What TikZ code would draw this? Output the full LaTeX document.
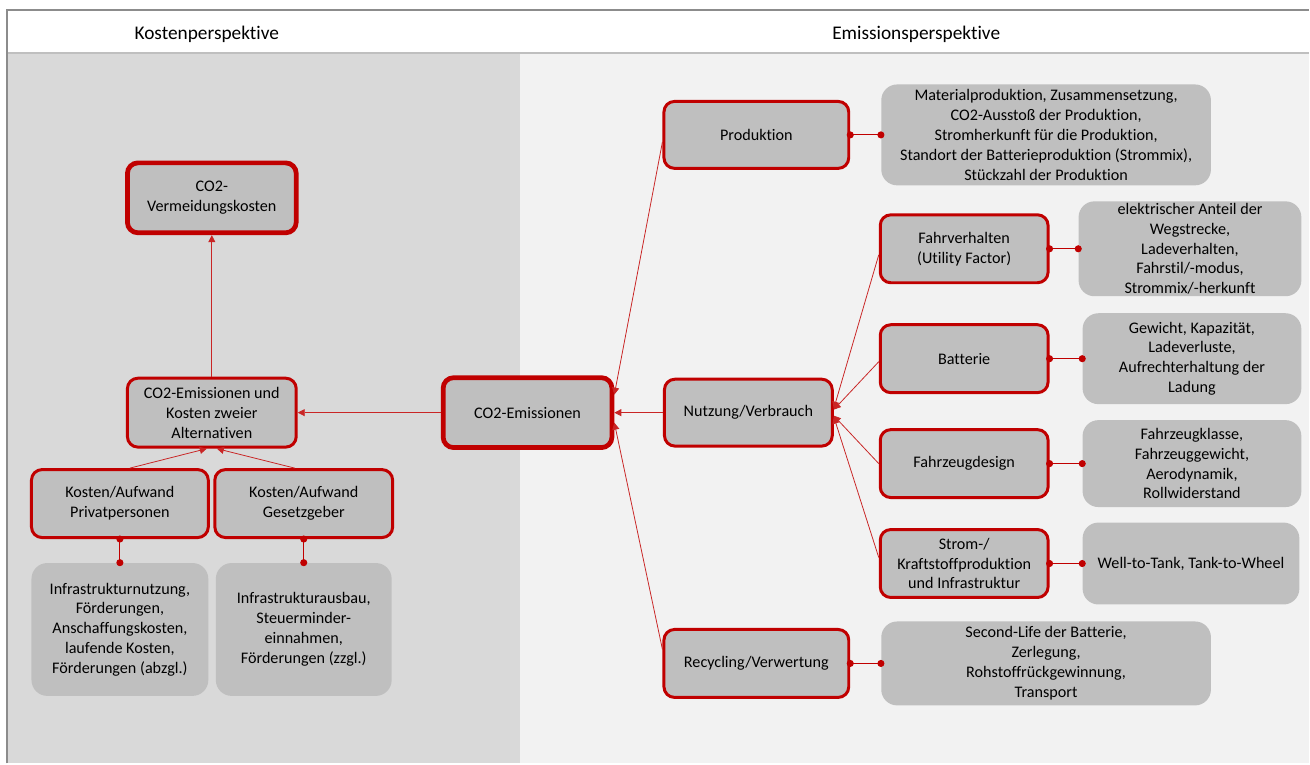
\documentclass[tikz,border=0pt]{standalone}
\usepackage{fontspec}
\setmainfont{Carlito}[Ligatures=NoCommon]
\usetikzlibrary{arrows.meta, positioning}

\definecolor{kred}{HTML}{C00000}
\definecolor{boxgray}{HTML}{BFBFBF}
\definecolor{leftpanel}{HTML}{D9D9D9}
\definecolor{rightpanel}{HTML}{F2F2F2}
\definecolor{framegray}{HTML}{8C8C8C}

\begin{document}
\begin{tikzpicture}[x=0.02cm, y=-0.02cm,
    every node/.style={font=\fontsize{9.2}{11.3}\selectfont, align=center, inner sep=1pt},
    factor/.style={draw=kred, fill=boxgray, line width=1.7pt, rounded corners=6pt,
      minimum width=3.36cm, minimum height=1.36cm},
    keyfactor/.style={factor, line width=2.7pt, minimum width=3.38cm, minimum height=1.4cm},
    info/.style={fill=boxgray, rounded corners=9pt, minimum width=4.4cm},
    arr/.style={draw=kred!85, line width=0.45pt, -{Triangle[length=4pt,width=4pt]}},
    dotline/.style={draw=kred, line width=0.6pt, {Circle[length=4pt]}-{Circle[length=4pt]},
      shorten <=-2pt, shorten >=-2pt}]

    % panels and frame
    \fill[white] (0,0) rectangle (1310,764);
    \fill[leftpanel] (8,53) rectangle (520,764);
    \fill[rightpanel] (520,53) rectangle (1310,764);
    \draw[boxgray, line width=0.8pt] (8,53) -- (1310,53);
    \draw[framegray, line width=1.3pt] (7,764) -- (7,10) -- (1310,10);

    \node[font=\fontsize{11}{13}\selectfont] (kosten) at (207,34) {Kostenperspektive};
    \node[font=\fontsize{11}{13}\selectfont] (emission) at (917,34) {Emissionsperspektive};

    % cost side
    \node[keyfactor] (vk) at (212,198) {CO2-\\Vermeidungskosten};
    \node[factor, minimum width=3.38cm, minimum height=1.38cm] (alt) at (212,413) {CO2-Emissionen und\\Kosten zweier\\Alternativen};
    \node[factor, minimum width=3.54cm] (priv) at (120,504) {Kosten/Aufwand\\Privatpersonen};
    \node[factor, minimum width=3.56cm] (gesetz) at (304,504) {Kosten/Aufwand\\Gesetzgeber};
    \node[info, minimum width=3.54cm, minimum height=2.66cm] (privinfo) at (120,630)
      {Infrastrukturnutzung,\\Förderungen,\\Anschaffungskosten,\\laufende Kosten,\\Förderungen (abzgl.)};
    \node[info, minimum width=3.52cm, minimum height=2.66cm] (gesetzinfo) at (304,630)
      {Infrastrukturausbau,\\Steuerminder-\\einnahmen,\\Förderungen (zzgl.)};

    % emission side
    \node[keyfactor] (co2) at (528,413) {CO2-Emissionen};
    \node[factor, minimum height=1.34cm] (nutz) at (749,413) {Nutzung/Verbrauch};
    \node[factor, minimum width=3.7cm, minimum height=1.34cm] (prod) at (757,135) {Produktion};
    \node[factor, minimum width=3.7cm] (recyc) at (757,664) {Recycling/Verwertung};
    \node[factor] (fahr) at (965,249) {Fahrverhalten\\(Utility Factor)};
    \node[factor] (batt) at (965,359) {Batterie};
    \node[factor] (design) at (965,464) {Fahrzeugdesign};
    \node[factor] (strom) at (965,564) {Strom-/\\Kraftstoffproduktion\\und Infrastruktur};

    \node[info, minimum width=6.6cm, minimum height=2.02cm] (prodinfo) at (1047,135)
      {Materialproduktion, Zusammensetzung,\\CO2-Ausstoß der Produktion,\\Stromherkunft für die Produktion,\\Standort der Batterieproduktion (Strommix),\\Stückzahl der Produktion};
    \node[info, minimum width=4.46cm, minimum height=1.9cm] (fahrinfo) at (1191,249)
      {elektrischer Anteil der\\Wegstrecke,\\Ladeverhalten,\\Fahrstil/-modus,\\Strommix/-herkunft};
    \node[info, minimum width=4.38cm, minimum height=1.82cm] (battinfo) at (1193,359)
      {Gewicht, Kapazität,\\Ladeverluste,\\Aufrechterhaltung der\\Ladung};
    \node[info, minimum width=4.38cm, minimum height=1.74cm] (designinfo) at (1193,464)
      {Fahrzeugklasse,\\Fahrzeuggewicht,\\Aerodynamik,\\Rollwiderstand};
    \node[info, minimum width=4.34cm, minimum height=1.64cm] (strominfo) at (1192,564)
      {Well-to-Tank, Tank-to-Wheel};
    \node[info, minimum width=6.6cm, minimum height=1.68cm] (recycinfo) at (1047,664)
      {Second-Life der Batterie,\\Zerlegung,\\Rohstoffrückgewinnung,\\Transport};

    % arrows
    \draw[arr] (alt) -- (vk);
    \draw[arr] (co2) -- (alt);
    \draw[arr] ([xshift=0.2cm]priv.north) -- ([xshift=-0.1cm]alt.south);
    \draw[arr] ([xshift=-0.18cm]gesetz.north) -- ([xshift=0.1cm]alt.south);
    \draw[arr] (nutz) -- (co2);
    \draw[arr] ([yshift=-0.14cm]prod.west) -- ([yshift=0.36cm]co2.east);
    \draw[arr] ([yshift=0.28cm]recyc.west) -- ([yshift=-0.2cm]co2.east);
    \draw[arr] ([yshift=-0.12cm]fahr.west) -- ([yshift=0.08cm]nutz.east);
    \draw[arr] ([yshift=-0.06cm]batt.west) -- ([yshift=0.06cm]nutz.east);
    \draw[arr] (design.west) -- ([yshift=-0.06cm]nutz.east);
    \draw[arr] ([yshift=0.12cm]strom.west) -- ([yshift=-0.08cm]nutz.east);

    % links to the influencing parameters
    \draw[dotline] (priv.south) -- (privinfo.north);
    \draw[dotline] (gesetz.south) -- (gesetzinfo.north);
    \draw[dotline] (prod.east) -- (prodinfo.west);
    \draw[dotline] (fahr.east) -- (fahrinfo.west);
    \draw[dotline] (batt.east) -- (battinfo.west);
    \draw[dotline] (design.east) -- (designinfo.west);
    \draw[dotline] (strom.east) -- (strominfo.west);
    \draw[dotline] (recyc.east) -- (recycinfo.west);
\end{tikzpicture}
\end{document}
